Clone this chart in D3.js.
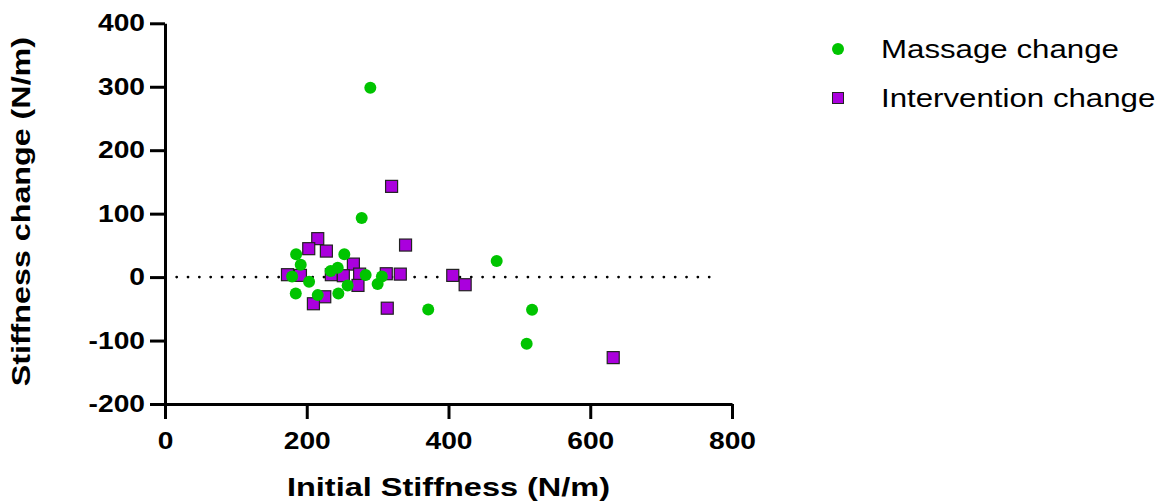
<!DOCTYPE html>
<html>
<head>
<meta charset="utf-8">
<title>Stiffness change scatter</title>
<style>
  body { margin: 0; background: #fff; }
  svg { display: block; font-family: "Liberation Sans", Arial, sans-serif; }
</style>
</head>
<body>
<div id="chart"></div>
<script src="https://d3js.org/d3.v7.min.js"></script>
<script>
// massage group: initial stiffness and change (N/m)
const massageX = [289.7, 277.5, 185, 253, 191.5, 243.7, 233.8, 179.3, 283.1, 306,
                  203.3, 257.7, 300, 184.5, 215.5, 244.6, 371.4, 468, 517.9, 510.3];
const massageY = [298.6, 93.2, 35.9, 35.9, 19.6, 14.8, 9.5, 1.1, 3.2, 1.1,
                  -7.3, -13.1, -11, -25.8, -28.4, -25.8, -51, 25.3, -51.5, -105.2];

// intervention group
const interX = [319.7, 215.5, 202.8, 227.7, 339.4, 265.8, 172.8, 191.1, 234.7, 251.6,
                274.6, 312.2, 332, 406, 272.3, 225.4, 209.4, 313.6, 423.5, 632.4];
const interY = [143, 60.6, 44.8, 41, 50.5, 20.5, 3.8, 2.7, 3.8, 2.2,
                4.7, 5.3, 4.7, 2.7, -13.1, -31, -42, -49, -12, -126.9];

const xTicks = [0, 200, 400, 600, 800];
const yTicks = [-200, -100, 0, 100, 200, 300, 400];
const seriesNames = ["Massage change", "Intervention change"];

const width = 1161, height = 502;
const margin = { left: 165, right: 429, top: 23.3, bottom: 98 };
const stretch = 1.2;   // the original lettering is wider than Arial

const svg = d3.select("#chart").append("svg")
  .attr("width", width)
  .attr("height", height);

const x = d3.scaleLinear().domain([0, 800]).range([margin.left, width - margin.right]);
const y = d3.scaleLinear().domain([-200, 400]).range([height - margin.bottom, margin.top]);

// zero reference line (dotted)
svg.append("line")
  .attr("x1", x(16.5)).attr("x2", x(783))
  .attr("y1", y(0)).attr("y2", y(0))
  .attr("stroke", "#000")
  .attr("stroke-width", 2.8)
  .attr("stroke-linecap", "round")
  .attr("stroke-dasharray", "0,11.33");

function styleAxis(g) {
  g.selectAll(".domain").attr("stroke", "#000").attr("stroke-width", 3);
  g.selectAll(".tick line").attr("stroke", "#000").attr("stroke-width", 3);
  g.selectAll(".tick text")
    .attr("fill", "#000")
    .attr("font-size", "23.5px")
    .attr("font-weight", "bold")
    .attr("x", function() { return +d3.select(this).attr("x") / stretch; })
    .attr("transform", `scale(${stretch},1)`);
}

svg.append("g")
  .attr("transform", `translate(0,${y(-200)})`)
  .call(d3.axisBottom(x).tickValues(xTicks).tickFormat(d => String(d))
    .tickSize(15).tickPadding(13).tickSizeOuter(0))
  .call(styleAxis);

svg.append("g")
  .attr("transform", `translate(${x(0)},0)`)
  .call(d3.axisLeft(y).tickValues(yTicks).tickFormat(d => String(d))
    .tickSize(15).tickPadding(5).tickSizeOuter(0))
  .call(styleAxis);

// axis titles
svg.append("text")
  .attr("transform", `translate(${(x(0) + x(800)) / 2},496) scale(1.3,1)`)
  .attr("text-anchor", "middle")
  .attr("font-size", "25px")
  .attr("font-weight", "bold")
  .text("Initial Stiffness (N/m)");

svg.append("text")
  .attr("transform", `translate(30,${(y(-200) + y(400)) / 2 - 2}) rotate(-90) scale(1.29,1)`)
  .attr("text-anchor", "middle")
  .attr("font-size", "25px")
  .attr("font-weight", "bold")
  .text("Stiffness change (N/m)");

const green = "#00c400", purple = "#aa00dd";

// intervention squares
svg.append("g")
  .selectAll("rect")
  .data(d3.range(interX.length))
  .join("rect")
    .attr("x", i => x(interX[i]) - 6)
    .attr("y", i => y(interY[i]) - 6)
    .attr("width", 12)
    .attr("height", 12)
    .attr("fill", purple)
    .attr("stroke", "#222")
    .attr("stroke-width", 1.2);

// massage circles
svg.append("g")
  .selectAll("circle")
  .data(d3.range(massageX.length))
  .join("circle")
    .attr("cx", i => x(massageX[i]))
    .attr("cy", i => y(massageY[i]))
    .attr("r", 6)
    .attr("fill", green);

// legend
const legend = svg.append("g").attr("transform", "translate(838,49)");
legend.append("circle").attr("cx", 0).attr("cy", 0).attr("r", 6).attr("fill", green);
legend.append("rect").attr("x", -5.5).attr("y", 43.5).attr("width", 11).attr("height", 11)
  .attr("fill", purple).attr("stroke", "#222").attr("stroke-width", 1);
legend.selectAll("text")
  .data(seriesNames)
  .join("text")
    .attr("transform", (d, i) => `translate(43,${i * 49 + 9}) scale(1.25,1)`)
    .attr("font-size", "25px")
    .attr("fill", "#000")
    .text(d => d);
</script>
</body>
</html>
